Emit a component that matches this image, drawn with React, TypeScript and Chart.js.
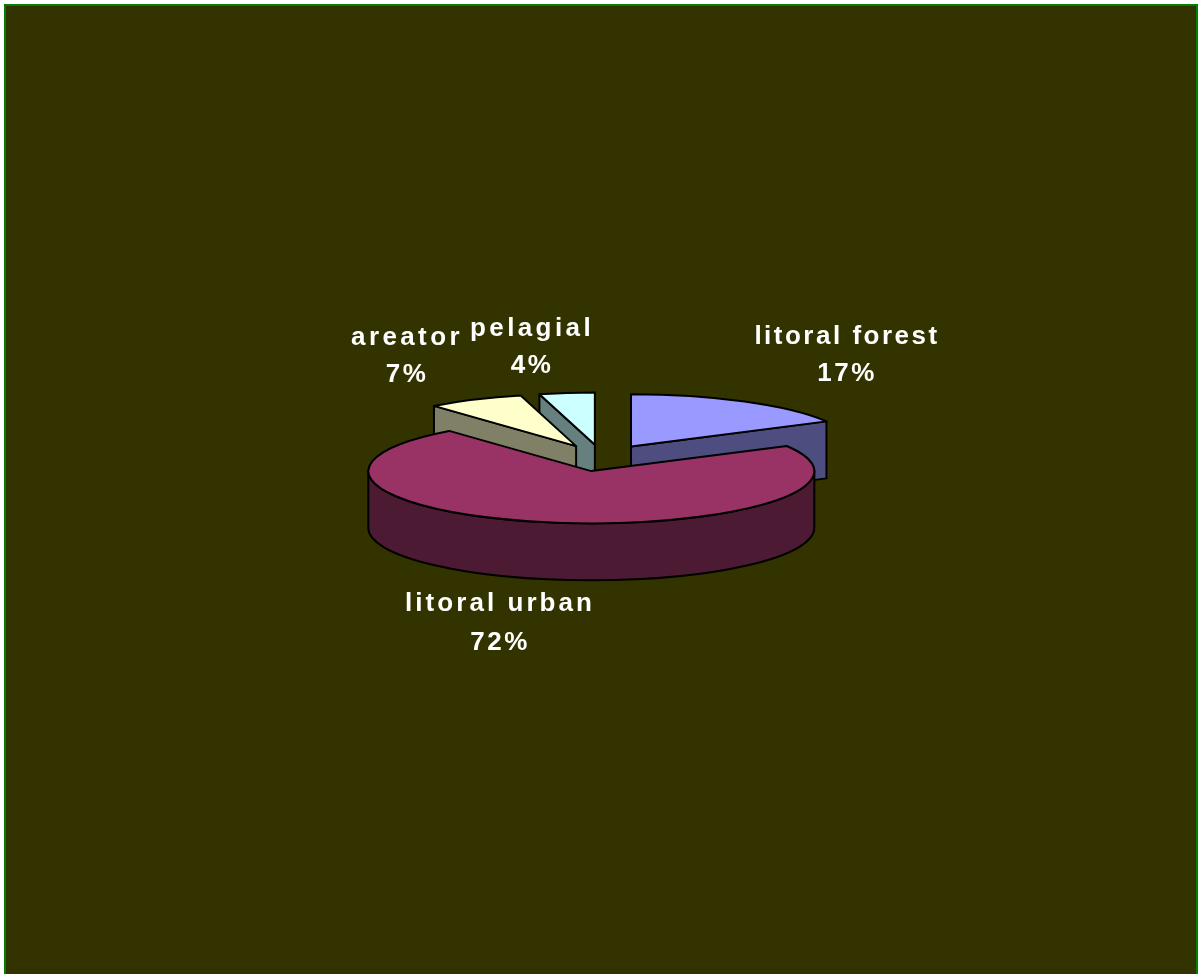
import React, { useEffect, useRef } from "react";
import { Chart, PieController, registerables } from "chart.js";

// Habitat shares, in percent
const categories = ["litoral forest", "litoral urban", "areator", "pelagial"];
const shares = [17, 72, 7, 4];

const topColors = ["#9999FF", "#993366", "#FFFFCC", "#CCFFFF"];
const sideColors = ["#4D4D80", "#4D1A33", "#808066", "#668080"];

// Centre of each two-line label: name line y, percent line y, name tracking
const labelAnchors = [
  { x: 847, nameY: 337, pctY: 374, tracking: 2.5 },
  { x: 500, nameY: 604, pctY: 643, tracking: 3.05 },
  { x: 407, nameY: 338, pctY: 375, tracking: 3.4 },
  { x: 532, nameY: 329, pctY: 366, tracking: 3.4 },
];

const PIE_RADIUS = 223;
const TILT = 0.234; // vertical squash of the pie plane
const DEPTH = 57; // height of the extruded rim
const EXPLODE = 57; // distance each slice is pulled from the hub

// Pie drawn as an exploded, tilted cylinder. Slices come from the stock arc
// elements; this controller only adds the walls and the projection.
class TiltedPieController extends PieController {
  static id = "tiltedPie";

  draw() {
    const ctx = this.chart.ctx;
    const arcs = [...this.getMeta().data] as any[];
    const mid = (a: any) => (a.startAngle + a.endAngle) / 2;
    // paint from the back of the scene to the front
    arcs.sort((a, b) => Math.sin(mid(a)) - Math.sin(mid(b)));

    for (const arc of arcs) {
      const i = (this.getMeta().data as any[]).indexOf(arc);
      const { x, y, startAngle: s, endAngle: e, outerRadius: r } = arc;
      const m = mid(arc);
      const hx = x + Math.cos(m) * EXPLODE;
      const hy = y + Math.sin(m) * EXPLODE * TILT;
      const px = (t: number) => hx + r * Math.cos(t);
      const py = (t: number) => hy + r * Math.sin(t) * TILT;

      ctx.save();
      ctx.lineWidth = 2;
      ctx.lineJoin = "round";
      ctx.strokeStyle = "#000";
      ctx.fillStyle = sideColors[i];

      const flatWall = (t: number) => {
        ctx.beginPath();
        ctx.moveTo(hx, hy);
        ctx.lineTo(px(t), py(t));
        ctx.lineTo(px(t), py(t) + DEPTH);
        ctx.lineTo(hx, hy + DEPTH);
        ctx.closePath();
        ctx.fill();
        ctx.stroke();
      };
      // cut faces that turn towards the viewer
      if (-Math.cos(s) > 1e-6) flatWall(s);
      if (Math.cos(e) > 1e-6) flatWall(e);

      // rim: only the part of the arc on the near half of the ellipse
      const a0 = Math.max(s, 0);
      const a1 = Math.min(e, Math.PI);
      if (a1 > a0) {
        ctx.beginPath();
        ctx.ellipse(hx, hy, r, r * TILT, 0, a0, a1);
        ctx.ellipse(hx, hy + DEPTH, r, r * TILT, 0, a1, a0, true);
        ctx.closePath();
        ctx.fill();
        ctx.stroke();
      }

      // top face from the arc element itself
      ctx.save();
      ctx.translate(hx, hy);
      ctx.scale(1, TILT);
      ctx.translate(-x, -y);
      arc.draw(ctx);
      ctx.restore();

      // outline of the top face, stroked without the squash
      ctx.beginPath();
      ctx.moveTo(hx, hy);
      ctx.ellipse(hx, hy, r, r * TILT, 0, s, e);
      ctx.closePath();
      ctx.stroke();
      ctx.restore();
    }
  }
}

const sliceLabels = {
  id: "sliceLabels",
  afterDatasetsDraw(chart: any) {
    const ctx = chart.ctx;
    ctx.save();
    ctx.fillStyle = "#FFFFFF";
    ctx.font = 'bold 26px "Liberation Sans", Arial, sans-serif';
    ctx.textAlign = "center";
    ctx.textBaseline = "middle";
    categories.forEach((name, i) => {
      const a = labelAnchors[i];
      (ctx as any).letterSpacing = `${a.tracking}px`;
      ctx.fillText(name, a.x, a.nameY);
      (ctx as any).letterSpacing = "2.5px";
      ctx.fillText(`${shares[i]}%`, a.x, a.pctY);
    });
    ctx.restore();
  },
};

Chart.register(...registerables, TiltedPieController as any);

export default function App() {
  const canvasRef = useRef<HTMLCanvasElement>(null);

  useEffect(() => {
    document.body.style.margin = "0";
    document.body.style.overflow = "hidden";
    const chart = new Chart(canvasRef.current!, {
      type: "tiltedPie" as any,
      data: {
        labels: categories,
        datasets: [
          {
            data: shares,
            backgroundColor: topColors,
            borderWidth: 0,
          } as any,
        ],
      },
      options: {
        responsive: false,
        animation: false,
        radius: PIE_RADIUS,
        layout: { padding: { left: 6, bottom: 58 } },
        plugins: { legend: { display: false }, tooltip: { enabled: false } },
      } as any,
      plugins: [sliceLabels],
    });
    return () => chart.destroy();
  }, []);

  return (
    <div style={{ position: "relative", width: 1198, height: 974, overflow: "hidden", background: "#fff" }}>
      <div
        style={{
          position: "absolute",
          left: 4,
          top: 4,
          width: 1194,
          height: 980,
          boxSizing: "border-box",
          border: "2px solid #008000",
          background: "#333300",
        }}
      />
      <canvas
        ref={canvasRef}
        width={1198}
        height={974}
        style={{ position: "absolute", left: 0, top: 0, display: "block" }}
      />
    </div>
  );
}
